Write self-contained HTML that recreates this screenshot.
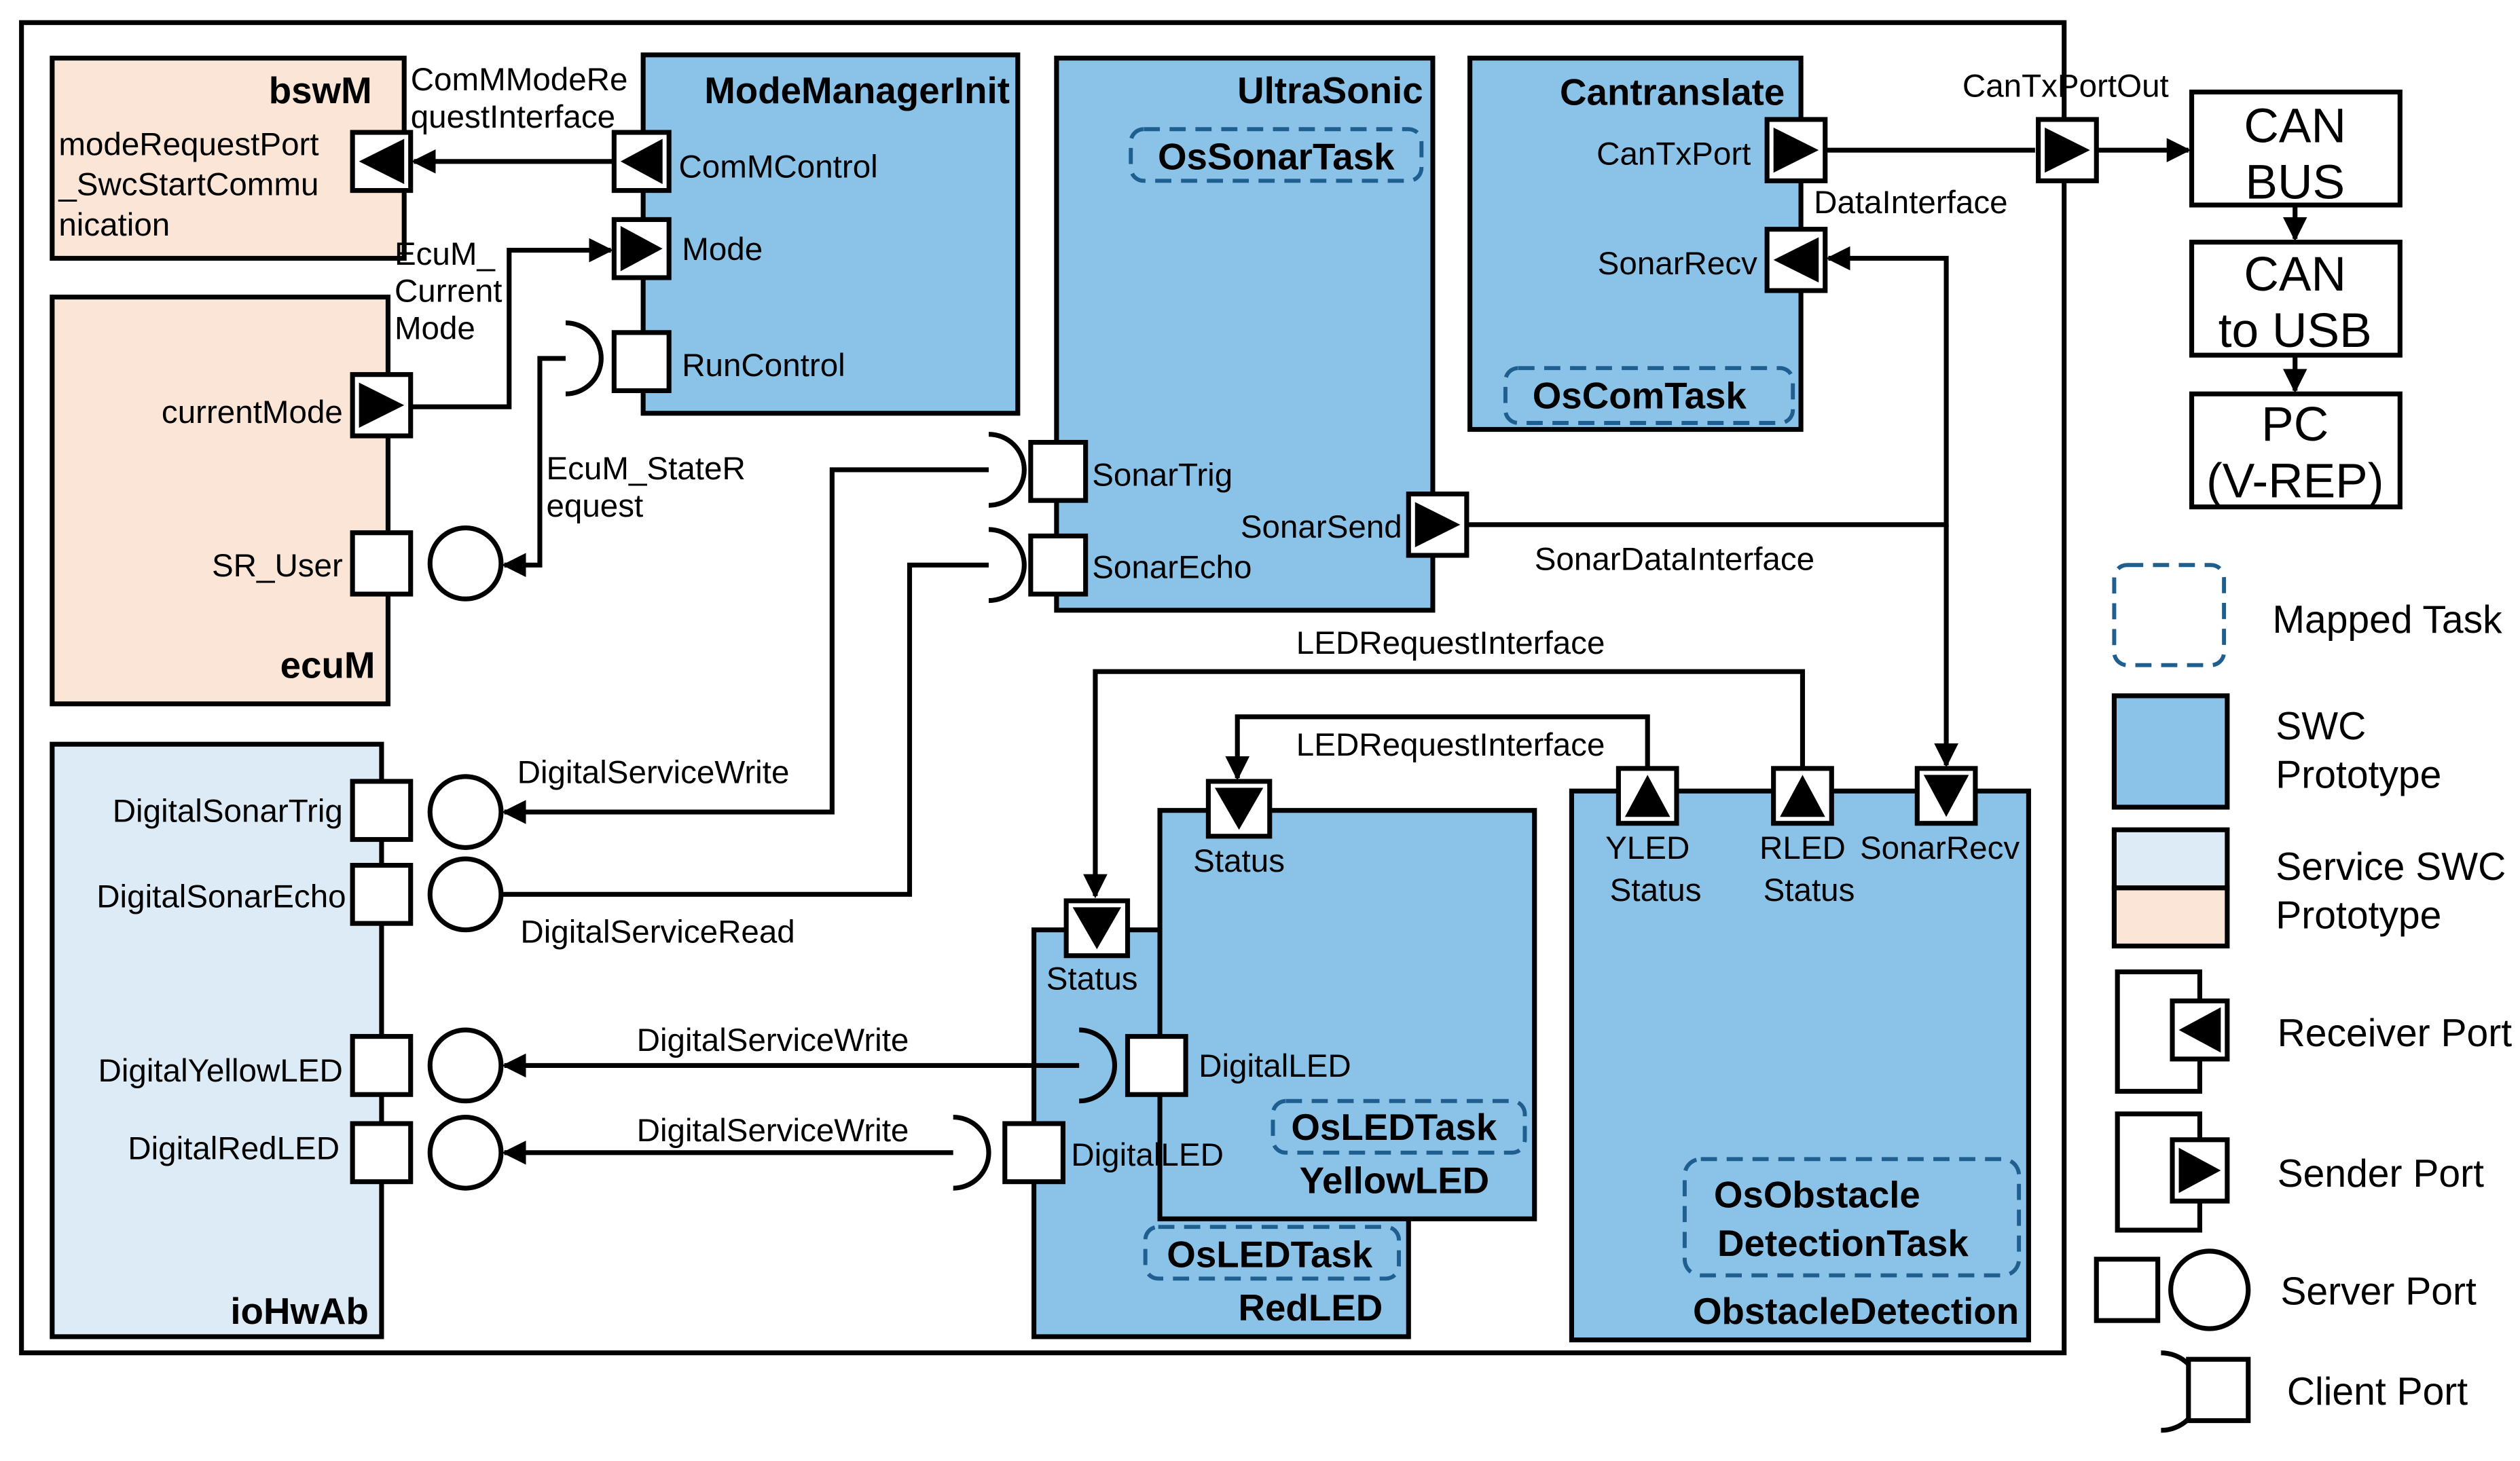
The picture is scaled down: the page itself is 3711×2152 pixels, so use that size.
<!DOCTYPE html>
<html><head><meta charset="utf-8"><style>
html,body{margin:0;padding:0;background:#fff;}
svg{display:block;}
text{font-family:"Liberation Sans",sans-serif;font-size:20px;fill:#000;}
.b{font-weight:bold;font-size:23px;}
.big{font-size:30px;}
.lg{font-size:24px;}
</style></head><body>
<svg width="3711" height="2152" viewBox="0 0 1560 905" xmlns="http://www.w3.org/2000/svg">
<defs>
<marker id="ar" viewBox="0 0 10 10" refX="9" refY="5" markerWidth="5" markerHeight="5" orient="auto"><path d="M0,0 L10,5 L0,10 z" fill="#000"/></marker>
</defs>
<g stroke="#000" stroke-width="3">
<rect x="13" y="14" width="1265" height="824" fill="none"/>
<rect x="32" y="36" width="218" height="124" fill="#fbe5d6"/>
<rect x="32" y="184" width="208" height="252" fill="#fbe5d6"/>
<rect x="32" y="461" width="204" height="367" fill="#ddebf7"/>
<rect x="398" y="34" width="232" height="222" fill="#8bc3e8"/>
<rect x="654" y="36" width="233" height="342" fill="#8bc3e8"/>
<rect x="910" y="36" width="205" height="230" fill="#8bc3e8"/>
<rect x="640" y="576" width="232" height="252" fill="#8bc3e8"/>
<rect x="718" y="502" width="232" height="253" fill="#8bc3e8"/>
<rect x="973" y="490" width="283" height="340" fill="#8bc3e8"/>
<rect x="1357" y="57" width="129" height="70" fill="#fff"/>
<rect x="1357" y="150" width="129" height="70" fill="#fff"/>
<rect x="1357" y="244" width="129" height="70" fill="#fff"/>
</g>
<g stroke="#1f5f8f" stroke-width="2.5" stroke-dasharray="10,6" fill="none">
<rect x="700" y="80" width="180" height="32" rx="8"/>
<rect x="932" y="228" width="178" height="34" rx="8"/>
<rect x="788" y="682" width="156" height="32" rx="8"/>
<rect x="709" y="760" width="157" height="32" rx="8"/>
<rect x="1043" y="718" width="207" height="72" rx="10"/>
<rect x="1309" y="350" width="68" height="62" rx="8"/>
</g>
<g stroke="#000" stroke-width="3" fill="none">
<path d="M380,100 L256,100" marker-end="url(#ar)"/>
<path d="M254,252 L315,252 L315,155 L378,155" marker-end="url(#ar)"/>
<path d="M350,222 L334,222 L334,350 L312,350" marker-end="url(#ar)"/>
<path d="M1130,93 L1260,93"/>
<path d="M1298,93 L1355,93" marker-end="url(#ar)"/>
<path d="M1421,127 L1421,148" marker-end="url(#ar)"/>
<path d="M1421,220 L1421,242" marker-end="url(#ar)"/>
<path d="M908,325 L1205,325 L1205,160 L1132,160" marker-end="url(#ar)"/>
<path d="M1205,325 L1205,474" marker-end="url(#ar)"/>
<path d="M1116,476 L1116,416 L678,416 L678,555" marker-end="url(#ar)"/>
<path d="M1020,476 L1020,444 L766,444 L766,482" marker-end="url(#ar)"/>
<path d="M612,291 L515,291 L515,503 L312,503" marker-end="url(#ar)"/>
<path d="M310,554 L563,554 L563,350 L612,350"/>
<path d="M668,660 L312,660" marker-end="url(#ar)"/>
<path d="M590,714 L312,714" marker-end="url(#ar)"/>
<path d="M350,200 A22,22 0 0 1 350,244"/>
<path d="M612,269 A22,22 0 0 1 612,313"/>
<path d="M612,328 A22,22 0 0 1 612,372"/>
<path d="M668,638 A22,22 0 0 1 668,682"/>
<path d="M590,692 A22,22 0 0 1 590,736"/>
<path d="M1338,838 A24,24 0 0 1 1338,886"/>
</g>
<g stroke="#000" stroke-width="3" fill="#fff">
<rect x="218" y="82" width="36" height="36"/>
<rect x="218" y="232" width="36" height="38"/>
<rect x="218" y="330" width="36" height="38"/>
<circle cx="288" cy="349" r="22"/>
<rect x="380" y="82" width="34" height="36"/>
<rect x="380" y="136" width="34" height="36"/>
<rect x="380" y="206" width="34" height="36"/>
<rect x="638" y="274" width="34" height="36"/>
<rect x="638" y="332" width="34" height="36"/>
<rect x="872" y="306" width="36" height="38"/>
<rect x="1094" y="74" width="36" height="38"/>
<rect x="1094" y="142" width="36" height="38"/>
<rect x="1262" y="74" width="36" height="38"/>
<rect x="1002" y="476" width="36" height="34"/>
<rect x="1098" y="476" width="36" height="34"/>
<rect x="1187" y="476" width="36" height="34"/>
<rect x="748" y="484" width="38" height="34"/>
<rect x="698" y="642" width="36" height="36"/>
<rect x="660" y="558" width="38" height="34"/>
<rect x="622" y="696" width="36" height="36"/>
<rect x="218" y="484" width="36" height="36"/>
<rect x="218" y="536" width="36" height="36"/>
<rect x="218" y="642" width="36" height="36"/>
<rect x="218" y="696" width="36" height="36"/>
<circle cx="288" cy="503" r="22"/>
<circle cx="288" cy="554" r="22"/>
<circle cx="288" cy="660" r="22"/>
<circle cx="288" cy="714" r="22"/>
<rect x="1309" y="431" width="70" height="69" fill="#8bc3e8"/>
<rect x="1309" y="514" width="70" height="36" fill="#ddebf7"/>
<rect x="1309" y="550" width="70" height="36" fill="#fbe5d6"/>
<rect x="1311" y="602" width="51" height="74"/>
<rect x="1345" y="620" width="34" height="36"/>
<rect x="1311" y="690" width="51" height="72"/>
<rect x="1345" y="706" width="34" height="38"/>
<rect x="1298" y="780" width="38" height="38"/>
<circle cx="1368" cy="799" r="24"/>
<rect x="1355" y="842" width="37" height="38"/>
</g>
<g fill="#000">
<path d="M222,100 L250,86 L250,114 z"/>
<path d="M222,237 L250,251 L222,265 z"/>
<path d="M384,100 L410,86 L410,114 z"/>
<path d="M384,140 L410,154 L384,168 z"/>
<path d="M876,311 L904,325 L876,339 z"/>
<path d="M1098,79 L1126,93 L1098,107 z"/>
<path d="M1098,161 L1126,147 L1126,175 z"/>
<path d="M1266,79 L1294,93 L1266,107 z"/>
<path d="M1006,506 L1020,480 L1034,506 z"/>
<path d="M1102,506 L1116,480 L1130,506 z"/>
<path d="M1191,480 L1219,480 L1205,506 z"/>
<path d="M752,488 L782,488 L767,514 z"/>
<path d="M664,562 L694,562 L679,588 z"/>
<path d="M1349,638 L1375,624 L1375,652 z"/>
<path d="M1349,711 L1375,725 L1349,739 z"/>
</g>
<text class="b" x="230" y="64" text-anchor="end">bswM</text>
<text x="36" y="96">modeRequestPort</text>
<text x="36" y="121">_SwcStartCommu</text>
<text x="36" y="146">nication</text>
<text x="212" y="262" text-anchor="end">currentMode</text>
<text x="212" y="357" text-anchor="end">SR_User</text>
<text class="b" x="232" y="420" text-anchor="end">ecuM</text>
<text x="254" y="56" font-size="18">ComMModeRe</text>
<text x="254" y="79" font-size="18">questInterface</text>
<text x="244" y="164" font-size="18">EcuM_</text>
<text x="244" y="187" font-size="18">Current</text>
<text x="244" y="210" font-size="18">Mode</text>
<text x="338" y="297" font-size="18">EcuM_StateR</text>
<text x="338" y="320" font-size="18">equest</text>
<text class="b" x="625" y="64" text-anchor="end">ModeManagerInit</text>
<text x="420" y="110">ComMControl</text>
<text x="422" y="161">Mode</text>
<text x="422" y="233">RunControl</text>
<text class="b" x="881" y="64" text-anchor="end">UltraSonic</text>
<text class="b" x="790" y="105" text-anchor="middle">OsSonarTask</text>
<text x="676" y="301">SonarTrig</text>
<text x="676" y="358">SonarEcho</text>
<text x="868" y="333" text-anchor="end">SonarSend</text>
<text class="b" x="1105" y="65" text-anchor="end">Cantranslate</text>
<text x="1084" y="102" text-anchor="end">CanTxPort</text>
<text x="1088" y="170" text-anchor="end">SonarRecv</text>
<text class="b" x="1015" y="253" text-anchor="middle">OsComTask</text>
<text x="1215" y="60">CanTxPortOut</text>
<text x="1123" y="132" font-size="22">DataInterface</text>
<text x="950" y="353" font-size="22">SonarDataInterface</text>
<text x="898" y="405" text-anchor="middle" font-size="22">LEDRequestInterface</text>
<text x="898" y="468" text-anchor="middle" font-size="22">LEDRequestInterface</text>
<text class="big" x="1421" y="88" text-anchor="middle">CAN</text>
<text class="big" x="1421" y="123" text-anchor="middle">BUS</text>
<text class="big" x="1421" y="180" text-anchor="middle">CAN</text>
<text class="big" x="1421" y="215" text-anchor="middle">to USB</text>
<text class="big" x="1421" y="273" text-anchor="middle">PC</text>
<text class="big" x="1421" y="308" text-anchor="middle">(V-REP)</text>
<text x="1020" y="532" text-anchor="middle">YLED</text>
<text x="1025" y="558" text-anchor="middle">Status</text>
<text x="1116" y="532" text-anchor="middle">RLED</text>
<text x="1120" y="558" text-anchor="middle">Status</text>
<text x="1201" y="532" text-anchor="middle">SonarRecv</text>
<text class="b" x="1125" y="748" text-anchor="middle">OsObstacle</text>
<text class="b" x="1141" y="778" text-anchor="middle">DetectionTask</text>
<text class="b" x="1250" y="820" text-anchor="end">ObstacleDetection</text>
<text x="767" y="540" text-anchor="middle">Status</text>
<text x="742" y="667">DigitalLED</text>
<text class="b" x="863" y="706" text-anchor="middle">OsLEDTask</text>
<text class="b" x="922" y="739" text-anchor="end">YellowLED</text>
<text x="676" y="613" text-anchor="middle">Status</text>
<text x="663" y="722">DigitalLED</text>
<text class="b" x="786" y="785" text-anchor="middle">OsLEDTask</text>
<text class="b" x="856" y="818" text-anchor="end">RedLED</text>
<text x="212" y="509" text-anchor="end">DigitalSonarTrig</text>
<text x="214" y="562" text-anchor="end">DigitalSonarEcho</text>
<text x="212" y="670" text-anchor="end">DigitalYellowLED</text>
<text x="210" y="718" text-anchor="end">DigitalRedLED</text>
<text class="b" x="228" y="820" text-anchor="end">ioHwAb</text>
<text x="320" y="485" font-size="18">DigitalServiceWrite</text>
<text x="322" y="584" font-size="18">DigitalServiceRead</text>
<text x="394" y="651" font-size="18">DigitalServiceWrite</text>
<text x="394" y="707" font-size="18">DigitalServiceWrite</text>
<text class="lg" x="1407" y="392">Mapped Task</text>
<text class="lg" x="1409" y="458">SWC</text>
<text class="lg" x="1409" y="488">Prototype</text>
<text class="lg" x="1409" y="545">Service SWC</text>
<text class="lg" x="1409" y="575">Prototype</text>
<text class="lg" x="1410" y="648">Receiver Port</text>
<text class="lg" x="1410" y="735">Sender Port</text>
<text class="lg" x="1412" y="808">Server Port</text>
<text class="lg" x="1416" y="870">Client Port</text>
</svg>
</body></html>
